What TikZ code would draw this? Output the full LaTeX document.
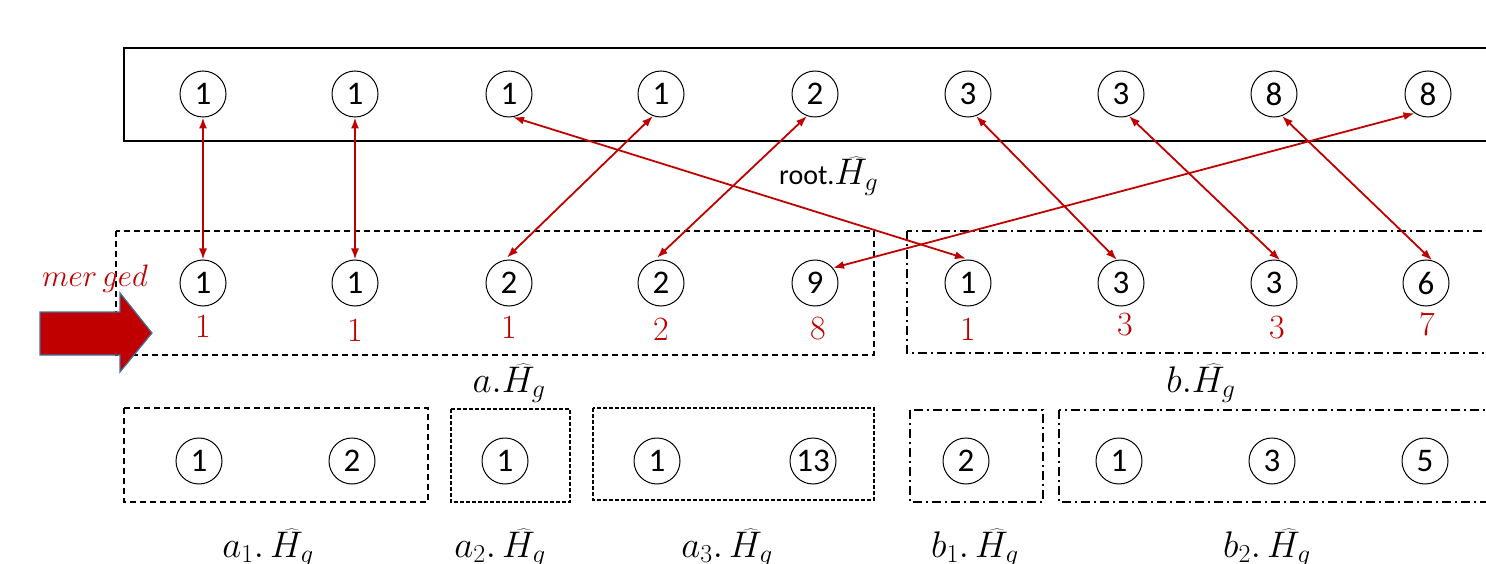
\RequirePackage{fix-cm}
\documentclass[tikz,border=0pt]{standalone}
\usepackage[no-math]{fontspec}
\setmainfont{Carlito}
\usetikzlibrary{arrows.meta}
\definecolor{dred}{HTML}{C00000}
\definecolor{bluegray}{HTML}{41719C}
\begin{document}
\begin{tikzpicture}[x=1pt,y=-1pt,
  circ/.style={circle,draw,line width=1pt,minimum size=46pt,inner sep=0pt,font=\fontsize{33}{35}\selectfont},
  cnt/.style={text=dred,inner sep=0pt,font=\fontsize{34}{36}\selectfont},
  lbl/.style={inner sep=0pt,anchor=base,font=\fontsize{37}{40}\selectfont},
  link/.style={dred,line width=1.8pt,{Latex[length=11pt,width=8pt]}-{Latex[length=11pt,width=8pt]}},
  boxa/.style={line width=1.2pt,dash pattern=on 6pt off 4pt},
  boxb/.style={line width=1.2pt,dash pattern=on 9pt off 4pt on 2pt off 4pt},
  boxf/.style={line width=1.2pt,dash pattern=on 4pt off 2pt},
]
\useasboundingbox (0,0) rectangle (1486,564);
\clip (0,0) rectangle (1486,564);
% boxes
\draw[line width=1.3pt] (124,48) rectangle (1500,141);
\draw[boxa] (116,231) rectangle (874,355);
\draw[boxb] (907,231) rectangle (1500,353);
\draw[boxa] (124,408) rectangle (428,502);
\draw[boxf] (451,409) rectangle (570,502);
\draw[boxf] (593,408) rectangle (874,500);
\draw[boxb] (910,410) rectangle (1043,502);
\draw[boxb] (1059,410) rectangle (1500,502);
% top row
\foreach \n/\x/\v in {1/203/1,2/355/1,3/509/1,4/661/1,5/815/2,6/968/3,7/1121/3,8/1274/8,9/1428/8}
  \node[circ] (t\n) at (\x,94) {\v};
% middle row
\foreach \n/\x/\v in {1/203/1,2/355/1,3/509/2,4/661/2,5/815/9,6/968/1,7/1121/3,8/1274/3,9/1426/6}
  \node[circ] (m\n) at (\x,283) {\v};
% counts
\foreach \n/\x/\y/\v in {1/203/327/1,2/355/331/1,3/509/328/1,4/661/330/2,5/818/329/8,6/968/330/1,7/1125/325/3,8/1277/328/3,9/1427/325/7}
  \node[cnt] (c\n) at (\x,\y) {$\v$};
% bottom row
\foreach \n/\x/\v in {1/199/1,2/352/2,3/505/1,4/657/1,5/813/13,6/966/2,7/1119/1,8/1272/3,9/1425/5}
  \node[circ] (b\n) at (\x,461) {\v};
% labels
\node[inner sep=0pt,anchor=base west] (rootlbl) at (779,185) {\fontsize{28}{30}\selectfont root.\fontsize{37}{40}\selectfont$\widehat{H_g}$};
\node[lbl] (alab) at (509,392) {$a.\widehat{H_g}$};
\node[lbl] (blab) at (1201,392) {$b.\widehat{H_g}$};
\node[lbl] (a1lab) at (268,557) {$a_1.\,\widehat{H_g}$};
\node[lbl] (a2lab) at (500,557) {$a_2.\,\widehat{H_g}$};
\node[lbl] (a3lab) at (727,557) {$a_3.\,\widehat{H_g}$};
\node[lbl] (b1lab) at (975,557) {$b_1.\,\widehat{H_g}$};
\node[lbl] (b2lab) at (1267,557) {$b_2.\,\widehat{H_g}$};
\node[text=dred,inner sep=0pt,font=\fontsize{31}{33}\selectfont] (merged) at (95,279) {$mer\,ged$};
% big arrow
\draw[bluegray,line width=1.2pt,fill=dred] (40,312) -- (120,312) -- (120,293) -- (152,333) -- (120,372) -- (120,355) -- (40,355) -- cycle;
% links
\draw[link] (t1.south) -- (m1.north);
\draw[link] (t2.south) -- (m2.north);
\draw[link] (t3.-80) -- ([yshift=1pt]m6.95);
\draw[link] (t4.-110) -- ([yshift=2pt]m3.95);
\draw[link] (t5.-110) -- ([yshift=2pt]m4.100);
\draw[link] (t9.-125) -- (m5.40);
\draw[link] (t6.-70) -- (m7.100);
\draw[link] (t7.-70) -- (m8.75);
\draw[link] (t8.-70) -- (m9.75);
\end{tikzpicture}
\end{document}
